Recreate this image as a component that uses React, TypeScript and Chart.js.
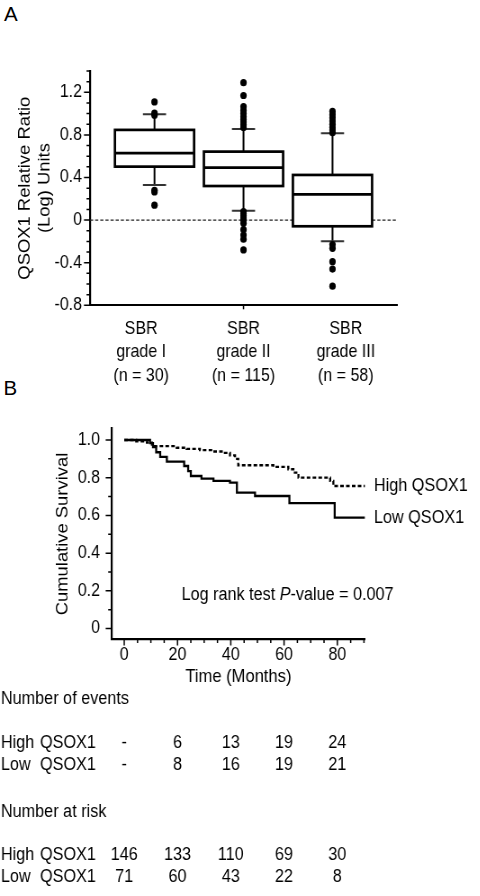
import React, { useEffect, useRef } from "react";
import { Chart, registerables } from "chart.js";

Chart.register(...registerables);

const FONT = "'Liberation Sans', Arial, Helvetica, sans-serif";
const FS = 17.8; // tick / category labels
const FT = 18.4; // axis titles
const FX = 18; // annotations and table
const INK = "#000";
const SQUEEZE = 0.9; // the figure is slightly condensed horizontally
const CW = 534; // canvas width before the horizontal squeeze

// ---------------- Panel A data ----------------
const gradeLabels = [
  ["SBR", "grade I", "(n = 30)"],
  ["SBR", "grade II", "(n = 115)"],
  ["SBR", "grade III", "(n = 58)"],
];
const whiskerLow = [0.33, 0.088, -0.198];
const quartile1 = [0.502, 0.32, -0.058];
const medians = [0.628, 0.492, 0.242];
const quartile3 = [0.847, 0.643, 0.424];
const whiskerHigh = [0.995, 0.856, 0.816];
const outliersGradeI = [1.11, 1.005, 0.985, 0.28, 0.265, 0.14];
const outliersGradeII = [
  1.29, 1.17, 1.065, 1.03, 1.0, 0.97, 0.945, 0.92, 0.895, 0.87,
  0.08, 0.06, 0.04, 0.02, 0.0, -0.03, -0.09, -0.14, -0.18, -0.28,
];
const outliersGradeIII = [
  1.02, 0.99, 0.96, 0.93, 0.9, 0.87, 0.845, 0.82,
  -0.23, -0.265, -0.39, -0.46, -0.62,
];
const yTicksA = [
  -0.8, -0.7, -0.6, -0.5, -0.4, -0.3, -0.2, -0.1, 0, 0.1, 0.2, 0.3, 0.4, 0.5,
  0.6, 0.7, 0.8, 0.9, 1.0, 1.1, 1.2, 1.3, 1.4,
];
const yLabelsA = [-0.8, -0.4, 0, 0.4, 0.8, 1.2];

// ---------------- Panel B data ----------------
const highTimes = [0, 4.5, 8.5, 10.4, 19.7, 23.4, 28.4, 33.3, 37.2, 39.7, 41.6, 42.8, 56, 61.6, 63.5, 65.4, 77.3, 78.5, 90.4];
const highSurvival = [1.0, 0.993, 0.986, 0.967, 0.959, 0.953, 0.946, 0.939, 0.932, 0.918, 0.9, 0.866, 0.857, 0.845, 0.827, 0.8, 0.783, 0.756, 0.756];
const lowTimes = [0, 9.7, 10.8, 12, 13.5, 16, 22.5, 24, 25, 29, 33.5, 39.7, 42.3, 49.1, 62, 79, 90.4];
const lowSurvival = [1.0, 0.983, 0.962, 0.935, 0.91, 0.885, 0.862, 0.835, 0.809, 0.795, 0.783, 0.774, 0.721, 0.703, 0.665, 0.588, 0.588];
const xTicksB = [0, 5, 10, 15, 20, 25, 30, 35, 40, 45, 50, 55, 60, 65, 70, 75, 80, 85, 90];
const xLabelsB = [0, 20, 40, 60, 80];
const yTicksB = [0, 0.1, 0.2, 0.3, 0.4, 0.5, 0.6, 0.7, 0.8, 0.9, 1.0];
const yLabelsB = [0, 0.2, 0.4, 0.6, 0.8, 1.0];

// ---------------- Table data ----------------
const tableTimes = [0, 20, 40, 60, 80];
const eventsHigh = ["-", "6", "13", "19", "24"];
const eventsLow = ["-", "8", "16", "19", "21"];
const riskHigh = ["146", "133", "110", "69", "30"];
const riskLow = ["71", "60", "43", "22", "8"];
const pValueText = "0.007";

const isIn = (list: number[], v: number) => list.some((m) => Math.abs(m - v) < 1e-9);
const fmt = (v: any) => (Math.abs(v) < 1e-9 ? "0" : Number(v).toFixed(1));

function drawAxisTicks(ctx: any, scale: any, values: number[], majors: number[], side: string, area: any, majorLen: number, minorLen: number) {
  ctx.save();
  ctx.strokeStyle = INK;
  ctx.lineWidth = 1.5;
  ctx.beginPath();
  for (const v of values) {
    const len = isIn(majors, v) ? majorLen : minorLen;
    const p = scale.getPixelForValue(v);
    if (side === "left") {
      ctx.moveTo(area.left - len, p);
      ctx.lineTo(area.left, p);
    } else {
      ctx.moveTo(p, area.bottom);
      ctx.lineTo(p, area.bottom + len);
    }
  }
  ctx.stroke();
  ctx.restore();
}

const boxPlugin = {
  id: "boxes",
  beforeDatasetsDraw(chart: any) {
    const { ctx, chartArea, scales } = chart;
    const x = scales.x;
    const y = scales.y;
    ctx.save();
    ctx.strokeStyle = "#222";
    ctx.lineWidth = 1.3;
    ctx.setLineDash([3.5, 2.2]);
    const y0 = y.getPixelForValue(0);
    ctx.beginPath();
    ctx.moveTo(chartArea.left, y0);
    ctx.lineTo(chartArea.right, y0);
    ctx.stroke();
    ctx.setLineDash([]);

    const unit = x.getPixelForValue(1) - x.getPixelForValue(0);
    const half = unit * 0.445;
    const cap = unit * 0.13;
    for (let i = 0; i < medians.length; i++) {
      const cx = x.getPixelForValue(i + 1);
      const pQ1 = y.getPixelForValue(quartile1[i]);
      const pQ3 = y.getPixelForValue(quartile3[i]);
      const pMed = y.getPixelForValue(medians[i]);
      const pLo = y.getPixelForValue(whiskerLow[i]);
      const pHi = y.getPixelForValue(whiskerHigh[i]);
      ctx.strokeStyle = INK;
      ctx.lineWidth = 2;
      ctx.beginPath();
      ctx.moveTo(cx, pQ3);
      ctx.lineTo(cx, pHi);
      ctx.moveTo(cx, pQ1);
      ctx.lineTo(cx, pLo);
      ctx.stroke();
      ctx.lineWidth = 2;
      ctx.strokeStyle = "#333";
      ctx.beginPath();
      ctx.moveTo(cx - cap, pHi);
      ctx.lineTo(cx + cap, pHi);
      ctx.moveTo(cx - cap, pLo);
      ctx.lineTo(cx + cap, pLo);
      ctx.stroke();
      ctx.fillStyle = "#fff";
      ctx.fillRect(cx - half, pQ3, 2 * half, pQ1 - pQ3);
      ctx.strokeStyle = INK;
      ctx.lineWidth = 2.7;
      ctx.strokeRect(cx - half, pQ3, 2 * half, pQ1 - pQ3);
      ctx.beginPath();
      ctx.moveTo(cx - half, pMed);
      ctx.lineTo(cx + half, pMed);
      ctx.stroke();
    }
    ctx.restore();
  },
  afterDraw(chart: any) {
    const { ctx, chartArea, scales } = chart;
    drawAxisTicks(ctx, scales.y, yTicksA, yLabelsA, "left", chartArea, 6.7, 3.9);
    ctx.save();
    ctx.strokeStyle = INK;
    ctx.lineWidth = 1.5;
    const px = scales.x2.getPixelForValue(1);
    ctx.beginPath();
    ctx.moveTo(px, chartArea.bottom);
    ctx.lineTo(px, chartArea.bottom + 4);
    ctx.stroke();
    ctx.restore();
  },
};

const kmPlugin = {
  id: "kmExtras",
  afterDraw(chart: any) {
    const { ctx, chartArea, scales } = chart;
    const x = scales.x;
    const y = scales.y;
    drawAxisTicks(ctx, y, yTicksB, yLabelsB, "left", chartArea, 6.7, 3.9);
    drawAxisTicks(ctx, x, xTicksB, xLabelsB, "bottom", chartArea, 6, 3.5);

    ctx.save();
    ctx.fillStyle = INK;
    ctx.textBaseline = "middle";
    ctx.textAlign = "left";
    ctx.font = `${FX}px ${FONT}`;
    chart.data.datasets.forEach((ds: any) => {
      const last = ds.data[ds.data.length - 1];
      ctx.fillText(ds.label, chartArea.right + 10, y.getPixelForValue(last.y));
    });

    let tx = x.getPixelForValue(21.5);
    const ty = y.getPixelForValue(0.18);
    const parts: [string, string][] = [
      ["Log rank test ", ""],
      ["P", "italic "],
      ["-value = " + pValueText, ""],
    ];
    for (const [t, style] of parts) {
      ctx.font = `${style}${FX}px ${FONT}`;
      ctx.fillText(t, tx, ty);
      tx += ctx.measureText(t).width;
    }

    ctx.font = `${FX}px ${FONT}`;
    const base = chartArea.bottom;
    const rows: { y: number; name?: string[]; values?: string[]; title?: string }[] = [
      { y: base + 59.8, title: "Number of events" },
      { y: base + 103.8, name: ["High", "QSOX1"], values: eventsHigh },
      { y: base + 125.5, name: ["Low", "QSOX1"], values: eventsLow },
      { y: base + 172.2, title: "Number at risk" },
      { y: base + 215.5, name: ["High", "QSOX1"], values: riskHigh },
      { y: base + 237.8, name: ["Low", "QSOX1"], values: riskLow },
    ];
    for (const r of rows) {
      ctx.textAlign = "left";
      if (r.title) {
        ctx.fillText(r.title, 1.1, r.y);
        continue;
      }
      ctx.fillText(r.name![0], 1.1, r.y);
      ctx.fillText(r.name![1], 44.4, r.y);
      ctx.textAlign = "center";
      r.values!.forEach((v, i) => {
        ctx.fillText(v, x.getPixelForValue(tableTimes[i]), r.y);
      });
    }
    ctx.restore();
  },
};

const squeezed = (top: number) => ({
  position: "absolute" as const,
  left: 0,
  top,
  transform: `scaleX(${SQUEEZE})`,
  transformOrigin: "0 0",
});

function BoxPanel() {
  const ref = useRef<HTMLCanvasElement>(null);
  useEffect(() => {
    const outlierPoints = [
      ...outliersGradeI.map((v) => ({ x: 1, y: v })),
      ...outliersGradeII.map((v) => ({ x: 2, y: v })),
      ...outliersGradeIII.map((v) => ({ x: 3, y: v })),
    ];
    const chart = new Chart(ref.current as HTMLCanvasElement, {
      type: "scatter",
      data: {
        datasets: [
          {
            data: outlierPoints,
            pointRadius: 3.6,
            pointBackgroundColor: INK,
            pointBorderWidth: 0,
            borderWidth: 0,
          },
        ],
      },
      options: {
        animation: false,
        responsive: false,
        maintainAspectRatio: false,
        layout: { padding: { top: 71, right: 92.9, bottom: 4.7, left: 0 } },
        plugins: { legend: { display: false }, tooltip: { enabled: false } },
        scales: {
          x: { type: "linear", display: false, min: 0.2753, max: 3.7247 },
          x2: {
            type: "category",
            labels: gradeLabels as any,
            position: "bottom",
            offset: true,
            grid: { display: false, drawTicks: false },
            border: { display: true, color: INK, width: 2 },
            ticks: {
              color: INK,
              font: { family: FONT, size: FS, lineHeight: 23.3 / FS },
              padding: 12.35,
              maxRotation: 0,
              autoSkip: false,
            },
            afterFit: (s: any) => {
              s.height = 90;
            },
          },
          y: {
            type: "linear",
            min: -0.8,
            max: 1.4,
            afterBuildTicks: (s: any) => {
              s.ticks = yTicksA.map((v) => ({ value: v }));
            },
            grid: { display: false, drawTicks: false },
            border: { display: true, color: INK, width: 2.2 },
            ticks: {
              color: INK,
              autoSkip: false,
              padding: 8.9,
              font: { family: FONT, size: FS },
              callback: (v: any) => (isIn(yLabelsA, v) ? fmt(v) : ""),
            },
            title: {
              display: true,
              text: ["QSOX1 Relative Ratio", "(Log) Units"],
              color: INK,
              font: { family: FONT, size: FT, lineHeight: 22.2 / FT },
              padding: { top: 16.7, bottom: 0 },
            },
            afterFit: (s: any) => {
              s.width = 100;
            },
          },
        },
      } as any,
      plugins: [boxPlugin],
    });
    return () => chart.destroy();
  }, []);
  return <canvas ref={ref} width={CW} height={400} style={squeezed(0)} />;
}

function SurvivalPanel() {
  const ref = useRef<HTMLCanvasElement>(null);
  useEffect(() => {
    const chart = new Chart(ref.current as HTMLCanvasElement, {
      type: "line",
      data: {
        datasets: [
          {
            label: "Low QSOX1",
            data: lowTimes.map((t, i) => ({ x: t, y: lowSurvival[i] })),
            borderColor: INK,
            borderWidth: 2.3,
            stepped: "before",
            pointRadius: 0,
            fill: false,
          },
          {
            label: "High QSOX1",
            data: highTimes.map((t, i) => ({ x: t, y: highSurvival[i] })),
            borderColor: INK,
            borderWidth: 2.3,
            borderDash: [4, 2.5],
            stepped: "before",
            pointRadius: 0,
            fill: false,
          },
        ],
      },
      options: {
        animation: false,
        responsive: false,
        maintainAspectRatio: false,
        layout: { padding: { top: 28.5, right: 128.4, bottom: 208.3, left: 0 } },
        plugins: { legend: { display: false }, tooltip: { enabled: false } },
        scales: {
          x: {
            type: "linear",
            min: -4.7,
            max: 90.4,
            afterBuildTicks: (s: any) => {
              s.ticks = xTicksB.map((v) => ({ value: v }));
            },
            grid: { display: false, drawTicks: false },
            border: { display: true, color: INK, width: 2.2 },
            ticks: {
              color: INK,
              autoSkip: false,
              maxRotation: 0,
              padding: 4.6,
              font: { family: FONT, size: FS, lineHeight: 1.2 },
              callback: (v: any) => (isIn(xLabelsB, v) ? String(v) : ""),
            },
            title: {
              display: true,
              text: "Time (Months)",
              color: INK,
              font: { family: FONT, size: FT, lineHeight: 1.2 },
              padding: { top: 0, bottom: 0 },
            },
            afterFit: (s: any) => {
              s.height = 48.2;
            },
          },
          y: {
            type: "linear",
            min: -0.058,
            max: 1.061,
            afterBuildTicks: (s: any) => {
              s.ticks = yTicksB.map((v) => ({ value: v }));
            },
            grid: { display: false, drawTicks: false },
            border: { display: true, color: INK, width: 2.2 },
            ticks: {
              color: INK,
              autoSkip: false,
              padding: 13,
              font: { family: FONT, size: FS },
              callback: (v: any) => (isIn(yLabelsB, v) ? fmt(v) : ""),
            },
            title: {
              display: true,
              text: "Cumulative Survival",
              color: INK,
              font: { family: FONT, size: FT, lineHeight: 1.2 },
              padding: { top: 59, bottom: 0 },
            },
            afterFit: (s: any) => {
              s.width = 124.1;
            },
          },
        },
      } as any,
      plugins: [kmPlugin],
    });
    return () => chart.destroy();
  }, []);
  return <canvas ref={ref} width={CW} height={496} style={squeezed(400)} />;
}

export default function App() {
  return (
    <div
      style={{
        position: "absolute",
        left: 0,
        top: 0,
        width: 480,
        height: 896,
        background: "#fff",
        fontFamily: FONT,
        color: INK,
        overflow: "hidden",
      }}
    >
      <div style={{ position: "absolute", left: 4, top: 4.3, fontSize: 20.5, lineHeight: "20.5px" }}>A</div>
      <div style={{ position: "absolute", left: 3.5, top: 378.3, fontSize: 20.5, lineHeight: "20.5px" }}>B</div>
      <BoxPanel />
      <SurvivalPanel />
    </div>
  );
}
